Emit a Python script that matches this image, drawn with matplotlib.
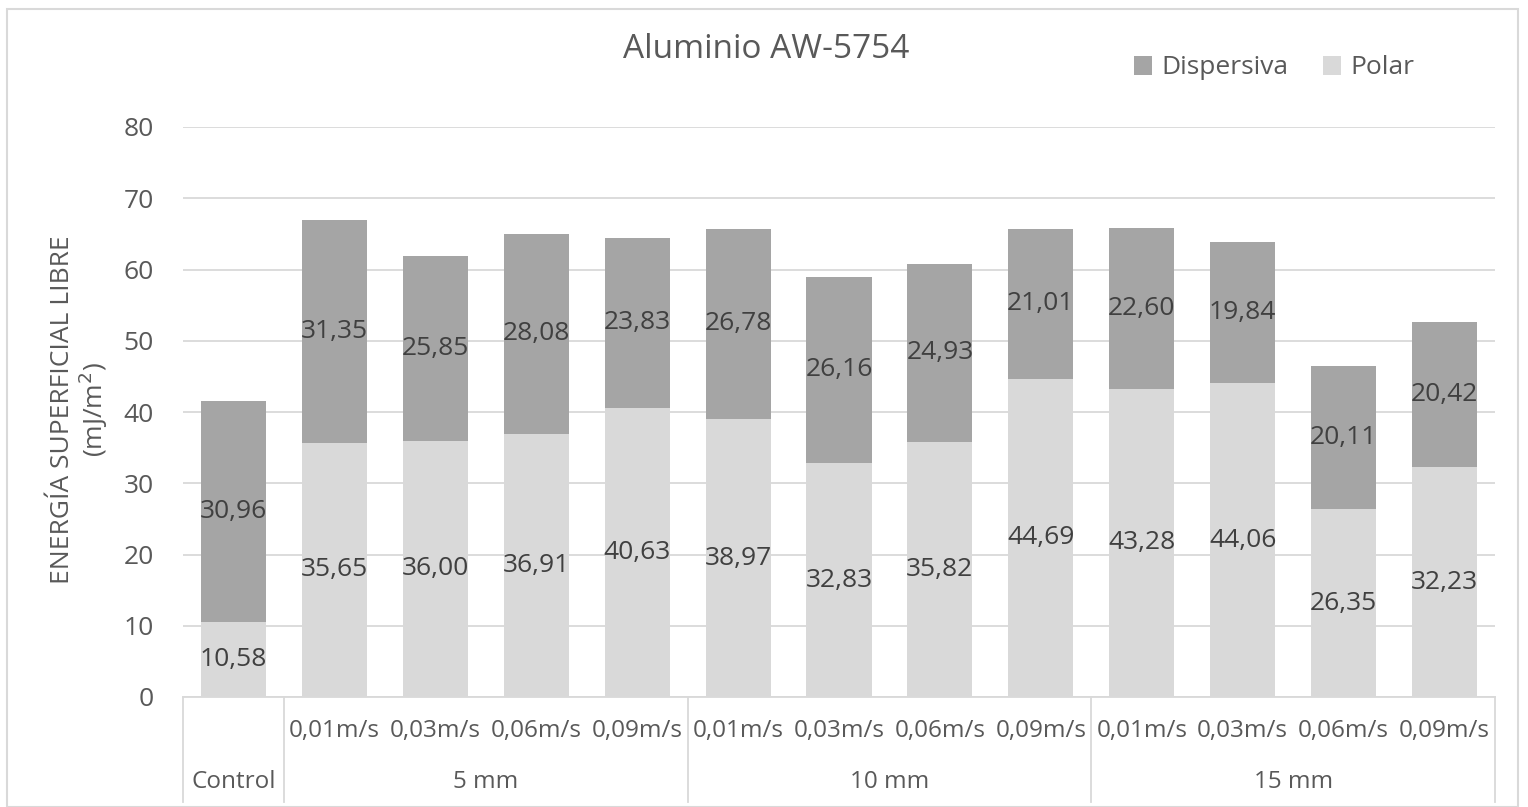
import matplotlib
matplotlib.use("Agg")
import matplotlib.pyplot as plt
from matplotlib.patches import Rectangle, Patch
from matplotlib.lines import Line2D
import numpy as np

plt.rcParams['font.family'] = ['Open Sans', 'DejaVu Sans']

title = "Aluminio AW-5754"
speeds = ["", "0,01m/s", "0,03m/s", "0,06m/s", "0,09m/s",
          "0,01m/s", "0,03m/s", "0,06m/s", "0,09m/s",
          "0,01m/s", "0,03m/s", "0,06m/s", "0,09m/s"]
groups = ["Control", "5 mm", "10 mm", "15 mm"]
group_sizes = [1, 4, 4, 4]
polar = [10.58, 35.65, 36.00, 36.91, 40.63, 38.97, 32.83, 35.82, 44.69, 43.28, 44.06, 26.35, 32.23]
dispersiva = [30.96, 31.35, 25.85, 28.08, 23.83, 26.78, 26.16, 24.93, 21.01, 22.60, 19.84, 20.11, 20.42]
yticks = [0, 10, 20, 30, 40, 50, 60, 70, 80]

c_disp = "#A5A5A5"
c_pol = "#D9D9D9"
grid_c = "#D9D9D9"
txt_c = "#595959"
lab_c = "#404040"

W, H = 1528, 807
fig = plt.figure(figsize=(W / 100, H / 100), dpi=100)
fig.patch.set_facecolor("white")

x0, x1 = 183, 1495
yb, yt = 697, 127
ax = fig.add_axes([x0 / W, 1 - yb / H, (x1 - x0) / W, (yb - yt) / H])

n = len(polar)
x = np.arange(n)
bw = 0.645
ax.bar(x, polar, width=bw, color=c_pol, zorder=2)
ax.bar(x, dispersiva, width=bw, bottom=polar, color=c_disp, zorder=2)

fmt = lambda v: f"{v:.2f}".replace(".", ",")
for i in range(n):
    ax.text(x[i], polar[i] / 2, fmt(polar[i]), ha="center", va="center",
            fontsize=19, color=lab_c, zorder=3)
    ax.text(x[i], polar[i] + dispersiva[i] / 2, fmt(dispersiva[i]), ha="center", va="center",
            fontsize=19, color=lab_c, zorder=3)

ax.set_xlim(-0.5, n - 0.5)
ax.set_ylim(0, 80)
ax.set_yticks(yticks)
ax.set_yticklabels([str(t) for t in yticks], fontsize=19, color=txt_c)
ax.tick_params(axis="y", length=0, pad=21)
ax.set_xticks([])
ax.grid(axis="y", color=grid_c, linewidth=1.3, zorder=0)
for s in ["top", "right", "left"]:
    ax.spines[s].set_visible(False)
ax.spines["bottom"].set_color(grid_c)
ax.spines["bottom"].set_linewidth(1.3)

fig.text(80 / W, 1 - 410 / H, "ENERGÍA SUPERFICIAL LIBRE\n(mJ/m$^2$)", rotation=90,
         ha="center", va="center", fontsize=19, color=txt_c, linespacing=1.02,
         multialignment="center")

# category table below the axis
trans = ax.get_xaxis_transform()
y_speed = -(731 - yb) / (yb - yt)
y_group = -(782 - yb) / (yb - yt)
y_end = -(802 - yb) / (yb - yt)
for i in range(n):
    if speeds[i]:
        ax.text(x[i], y_speed, speeds[i], transform=trans, ha="center", va="center",
                fontsize=17.5, color=txt_c)
start = 0
bounds = [-0.5]
for g, sz in zip(groups, group_sizes):
    center = start + (sz - 1) / 2
    ax.text(center, y_group, g, transform=trans, ha="center", va="center",
            fontsize=17.5, color=txt_c)
    start += sz
    bounds.append(start - 0.5)
for b in bounds:
    ax.add_line(Line2D([b, b], [0, y_end], transform=trans, color=grid_c,
                       linewidth=1.3, clip_on=False))

# title
fig.text(766 / W, 1 - 50 / H, title, ha="center", va="center", fontsize=24, color=txt_c)

# legend
handles = [Patch(facecolor=c_disp, label="Dispersiva"), Patch(facecolor=c_pol, label="Polar")]
fig.legend(handles=handles, loc="center", bbox_to_anchor=(1274 / W, 1 - 68 / H), ncol=2,
           frameon=False, fontsize=19, labelcolor=txt_c, handlelength=0.7, handleheight=0.7,
           handletextpad=0.35, columnspacing=1.3)

# outer border
fig.patches.append(Rectangle((7 / W, 0), (1518 - 7) / W, 1 - 9 / H, transform=fig.transFigure,
                             fill=False, edgecolor="#D9D9D9", linewidth=1.5))

fig.savefig("out.png", dpi=100, facecolor="white")
